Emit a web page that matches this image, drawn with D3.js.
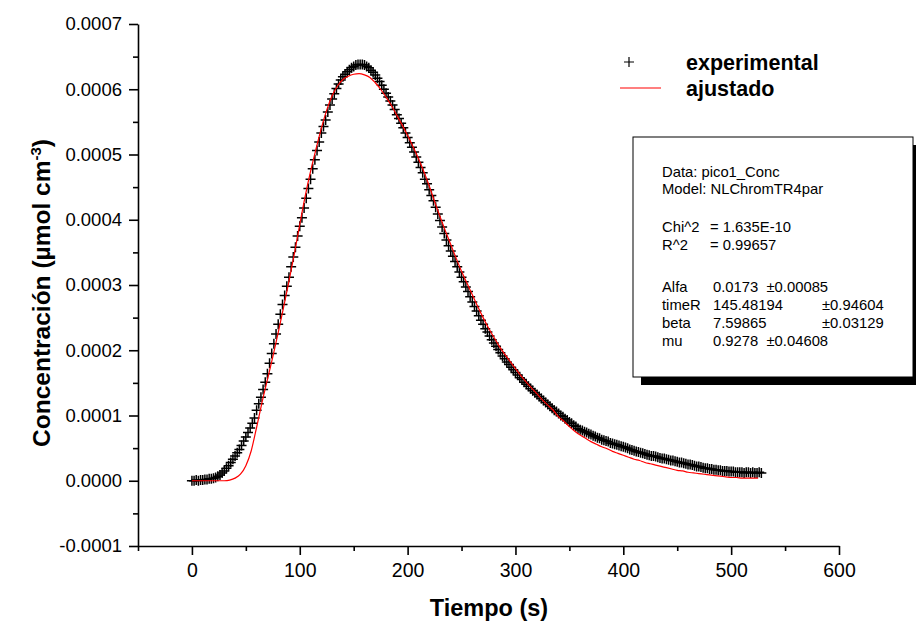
<!DOCTYPE html>
<html>
<head>
<meta charset="utf-8">
<script src="https://cdn.jsdelivr.net/npm/d3@7"></script>
<style>
  body { margin: 0; background: #fff; }
  svg { display: block; font-family: Arial, "Liberation Sans", sans-serif; }
</style>
</head>
<body>
<div id="chart"></div>
<script>
// experimental points, time in s, concentration in units of 1e-4 umol cm^-3
const expTime = [
  0,2,4,6,8,10,12,14,16,18,20,22,24,26,28,30,32,34,36,38,40,42,44,46,48,50,52,54,56,58,
  60,62,64,66,68,70,72,74,76,78,80,82,84,86,88,90,92,94,96,98,100,102,104,106,108,110,112,114,116,118,
  120,122,124,126,128,130,132,134,136,138,140,142,144,146,148,150,152,154,156,158,160,162,164,166,168,170,172,174,176,178,
  180,182,184,186,188,190,192,194,196,198,200,202,204,206,208,210,212,214,216,218,220,222,224,226,228,230,232,234,236,238,
  240,242,244,246,248,250,252,254,256,258,260,262,264,266,268,270,272,274,276,278,280,282,284,286,288,290,292,294,296,298,
  300,302,304,306,308,310,312,314,316,318,320,322,324,326,328,330,332,334,336,338,340,342,344,346,348,350,352,354,356,358,
  360,362,364,366,368,370,372,374,376,378,380,382,384,386,388,390,392,394,396,398,400,402,404,406,408,410,412,414,416,418,
  420,422,424,426,428,430,432,434,436,438,440,442,444,446,448,450,452,454,456,458,460,462,464,466,468,470,472,474,476,478,
  480,482,484,486,488,490,492,494,496,498,500,502,504,506,508,510,512,514,516,518,520,522,524,526,528
];
const expConc = [
  0.00,0.00,0.01,0.00,0.01,0.01,0.02,0.02,0.03,0.03,0.04,0.05,0.07,0.09,0.12,0.15,0.19,0.23,0.28,0.33,0.38,0.43,0.48,0.54,0.61,0.67,0.74,0.81,0.88,0.96,
  1.08,1.18,1.28,1.40,1.51,1.64,1.80,1.95,2.10,2.25,2.40,2.55,2.70,2.84,2.98,3.12,3.28,3.43,3.58,3.75,3.90,4.03,4.18,4.33,4.48,4.62,4.78,4.92,5.06,5.19,
  5.33,5.43,5.53,5.65,5.76,5.85,5.93,6.01,6.08,6.14,6.19,6.23,6.27,6.30,6.33,6.35,6.37,6.38,6.38,6.38,6.37,6.35,6.33,6.29,6.26,6.22,6.17,6.12,6.06,6.00,
  5.94,5.88,5.82,5.76,5.69,5.61,5.55,5.48,5.41,5.33,5.26,5.18,5.11,5.04,4.96,4.88,4.80,4.72,4.62,4.55,4.46,4.37,4.29,4.19,4.09,3.99,3.89,3.79,3.69,3.60,
  3.52,3.44,3.36,3.28,3.20,3.12,3.05,2.97,2.90,2.82,2.74,2.67,2.60,2.53,2.46,2.40,2.33,2.28,2.22,2.16,2.11,2.06,2.01,1.96,1.91,1.87,1.82,1.78,1.74,1.70,
  1.66,1.62,1.58,1.55,1.51,1.48,1.45,1.41,1.38,1.35,1.32,1.29,1.26,1.23,1.20,1.17,1.14,1.11,1.08,1.06,1.03,1.00,0.98,0.95,0.93,0.90,0.88,0.85,0.83,0.80,
  0.78,0.77,0.75,0.74,0.72,0.71,0.69,0.68,0.66,0.65,0.63,0.62,0.61,0.60,0.58,0.57,0.56,0.55,0.54,0.53,0.52,0.51,0.50,0.48,0.47,0.46,0.45,0.44,0.43,0.42,
  0.41,0.40,0.39,0.38,0.38,0.37,0.36,0.35,0.34,0.34,0.33,0.32,0.31,0.31,0.30,0.29,0.28,0.28,0.27,0.26,0.25,0.25,0.24,0.23,0.22,0.22,0.21,0.20,0.19,0.19,
  0.18,0.18,0.17,0.17,0.16,0.16,0.15,0.15,0.15,0.14,0.14,0.14,0.13,0.13,0.13,0.13,0.12,0.13,0.13,0.12,0.13,0.12,0.12,0.13,0.12
];

// fitted curve (ajustado), same units
const fitTime = [
  0,5,10,15,20,25,30,35,40,45,50,55,60,65,70,75,80,85,90,95,100,105,110,115,120,125,130,135,140,145,
  150,155,160,165,170,175,180,185,190,195,200,205,210,215,220,225,230,235,240,245,250,255,260,265,270,275,280,285,290,295,
  300,305,310,315,320,325,330,335,340,345,350,355,360,365,370,375,380,385,390,395,400,405,410,415,420,425,430,435,440,445,
  450,455,460,465,470,475,480,485,490,495,500,505,510,515,520,525
];
const fitConc = [
  0.00,0.00,0.00,0.00,0.00,0.00,0.00,0.01,0.04,0.10,0.23,0.46,0.82,1.20,1.55,1.90,2.27,2.66,3.06,3.48,3.93,4.36,4.74,5.08,5.40,5.68,5.90,6.05,6.15,6.20,
  6.23,6.24,6.22,6.18,6.10,6.00,5.88,5.75,5.60,5.45,5.29,5.12,4.94,4.74,4.52,4.28,4.05,3.83,3.62,3.41,3.21,3.03,2.85,2.67,2.50,2.34,2.20,2.06,1.94,1.83,
  1.72,1.61,1.51,1.42,1.33,1.24,1.16,1.08,0.98,0.91,0.83,0.76,0.70,0.65,0.60,0.56,0.52,0.49,0.45,0.42,0.39,0.36,0.33,0.31,0.28,0.26,0.24,0.22,0.20,0.18,
  0.16,0.15,0.13,0.12,0.11,0.10,0.09,0.08,0.07,0.06,0.05,0.05,0.04,0.04,0.04,0.04
];
const UNIT = 1e-4;

const xMajor = [0, 100, 200, 300, 400, 500, 600];
const xMinor = [-50, 50, 150, 250, 350, 450, 550];
const yMajor = [-0.0001, 0, 0.0001, 0.0002, 0.0003, 0.0004, 0.0005, 0.0006, 0.0007];
const yMinor = [-0.00005, 0.00005, 0.00015, 0.00025, 0.00035, 0.00045, 0.00055, 0.00065];

const legendLabels = ["experimental", "ajustado"];
const fitInfo = [
  ["Data: pico1_Conc"],
  ["Model: NLChromTR4par"],
  ["Chi^2", "= 1.635E-10"],
  ["R^2", "= 0.99657"],
  ["Alfa", "0.0173  \u00b10.00085"],
  ["timeR", "145.48194", "\u00b10.94604"],
  ["beta", "7.59865", "\u00b10.03129"],
  ["mu", "0.9278  \u00b10.04608"]
];

function drawChart() {
  const width = 916, height = 622;
  const svg = d3.select("#chart").append("svg")
    .attr("width", width).attr("height", height)
    .attr("viewBox", [0, 0, width, height]);

  const x = d3.scaleLinear().domain([-50, 600]).range([138, 839]);
  const y = d3.scaleLinear().domain([-0.0001, 0.0007]).range([546, 24]);

  // experimental crosses
  const expData = expTime.map((t, i) => ({ t: t, c: expConc[i] }));
  const cross = 5;
  svg.append("g").selectAll("path")
    .data(expData)
    .enter()
    .append("path")
    .attr("d", d => {
      const px = x(d.t), py = y(d.c * UNIT);
      return `M${px - cross},${py}H${px + cross}M${px},${py - cross}V${py + cross}`;
    })
    .attr("stroke", "#000")
    .attr("stroke-width", 1.5)
    .attr("fill", "none");

  // fitted line
  const line = d3.line()
    .x(d => x(d.t))
    .y(d => y(d.c * UNIT))
    .curve(d3.curveMonotoneX);
  const fitData = fitTime.map((t, i) => ({ t: t, c: fitConc[i] }));
  svg.append("path")
    .datum(fitData)
    .attr("d", line)
    .attr("fill", "none")
    .attr("stroke", "#ff0000")
    .attr("stroke-width", 1.2);

  // axes
  const yFmt = d => d3.format(".4f")(d).replace("\u2212", "-");
  const xAxis = svg.append("g").attr("transform", "translate(0,546)")
    .call(d3.axisBottom(x).tickValues(xMajor).tickSize(9).tickSizeOuter(0).tickPadding(8).tickFormat(d3.format("d")));
  svg.append("g").attr("transform", "translate(0,546)")
    .call(d3.axisBottom(x).tickValues(xMinor).tickSize(5).tickSizeOuter(0).tickFormat(""))
    .select(".domain").remove();
  const yAxis = svg.append("g").attr("transform", "translate(138,0)")
    .call(d3.axisLeft(y).tickValues(yMajor).tickSize(9).tickSizeOuter(0).tickPadding(7).tickFormat(yFmt));
  svg.append("g").attr("transform", "translate(138,0)")
    .call(d3.axisLeft(y).tickValues(yMinor).tickSize(5).tickSizeOuter(0).tickFormat(""))
    .select(".domain").remove();

  svg.selectAll(".domain, .tick line").attr("stroke", "#000").attr("stroke-width", 1.6);
  xAxis.selectAll("text").attr("font-size", 19.5).attr("font-family", "Arial, 'Liberation Sans'").attr("fill", "#000");
  yAxis.selectAll("text").attr("font-size", 18.5).attr("font-family", "Arial, 'Liberation Sans'").attr("fill", "#000");

  // axis titles
  svg.append("text")
    .attr("x", 489).attr("y", 616)
    .attr("text-anchor", "middle")
    .attr("font-size", 23.5).attr("font-weight", "bold")
    .text("Tiempo (s)");

  const yTitle = svg.append("text")
    .attr("transform", "translate(50,293) rotate(-90)")
    .attr("text-anchor", "middle")
    .attr("font-size", 24.5).attr("font-weight", "bold");
  yTitle.append("tspan").text("Concentración (µmol cm");
  yTitle.append("tspan").attr("dy", -9).attr("font-size", 15).text("-3");
  yTitle.append("tspan").attr("dy", 9).text(")");

  // legend
  const lg = svg.append("g");
  lg.append("path")
    .attr("d", "M624,62H634M629,57V67")
    .attr("stroke", "#000").attr("stroke-width", 1.2);
  lg.append("line")
    .attr("x1", 620).attr("x2", 661).attr("y1", 88).attr("y2", 88)
    .attr("stroke", "#ff0000").attr("stroke-width", 1.2);
  lg.selectAll("text")
    .data(legendLabels)
    .enter()
    .append("text")
    .attr("x", 686)
    .attr("y", (d, i) => 70 + i * 26)
    .attr("font-size", 21.5).attr("font-weight", "bold")
    .text(d => d);

  // fit parameter box with shadow
  const box = { x: 633, y: 137, w: 280, h: 240 };
  svg.append("rect")
    .attr("x", box.x + 8).attr("y", box.y + 8)
    .attr("width", box.w).attr("height", box.h)
    .attr("fill", "#000");
  svg.append("rect")
    .attr("x", box.x).attr("y", box.y)
    .attr("width", box.w).attr("height", box.h)
    .attr("fill", "#fff").attr("stroke", "#000").attr("stroke-width", 1);

  const rowY = [177, 194, 232, 249.5, 292, 310, 328, 346];
  const colX = [662, 713, 822];
  const rows = svg.append("g").attr("font-size", 14.8).attr("fill", "#000");
  fitInfo.forEach((row, i) => {
    row.forEach((cell, j) => {
      let cx = colX[j];
      if (j === 1 && (row[0] === "Chi^2" || row[0] === "R^2")) cx = 710;
      rows.append("text")
        .attr("x", cx)
        .attr("y", rowY[i])
        .attr("xml:space", "preserve")
        .style("white-space", "pre")
        .text(cell);
    });
  });
}

drawChart();
</script>
</body>
</html>
